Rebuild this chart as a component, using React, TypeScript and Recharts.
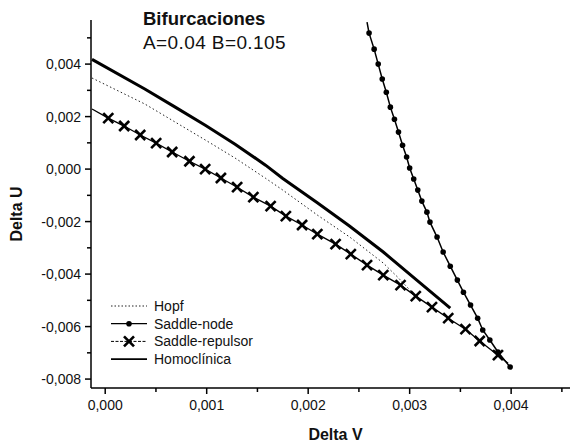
import React from "react";
import { LineChart, Line, XAxis, YAxis, Legend } from "recharts";

// Delta V (x) / Delta U (y)
const hopfV = [-0.00013, 0.00039, 0.00069, 0.00099, 0.00128, 0.00158, 0.00175, 0.00209, 0.00241, 0.00274, 0.00288, 0.00305];
const hopfU = [0.00347, 0.00248, 0.00179, 0.0011, 0.00042, -0.00035, -0.0008, -0.00175, -0.00259, -0.00358, -0.00411, -0.0048];

const saddleNodeV = [0.00258, 0.0026, 0.00265, 0.00269, 0.00273, 0.00277, 0.00281, 0.00285, 0.00289, 0.00293, 0.00297, 0.003, 0.00304, 0.00308, 0.00312, 0.00317, 0.0032, 0.00327, 0.00333, 0.0034, 0.00347, 0.00353, 0.0036, 0.00367, 0.00372, 0.00379, 0.00387, 0.00399];
const saddleNodeU = [0.0056, 0.00518, 0.00457, 0.004, 0.00343, 0.00293, 0.00236, 0.0019, 0.00141, 0.00091, 0.00046, 0.00004, -0.00038, -0.0008, -0.00122, -0.00164, -0.00202, -0.00259, -0.00316, -0.0037, -0.00423, -0.00469, -0.00518, -0.00568, -0.00613, -0.00651, -0.00697, -0.00754];

const saddleRepV = [-0.00013, 0.00003, 0.000187, 0.000345, 0.000502, 0.00066, 0.00083, 0.000985, 0.00114, 0.0013, 0.00146, 0.00163, 0.00178, 0.00194, 0.00209, 0.00227, 0.00242, 0.00258, 0.00274, 0.00291, 0.00306, 0.00322, 0.00338, 0.00355, 0.00369, 0.00387, 0.00397];
const saddleRepU = [0.00229, 0.00194, 0.00164, 0.0013, 0.00099, 0.00065, 0.0003, 0.0, -0.00034, -0.00069, -0.00107, -0.00141, -0.00179, -0.00213, -0.00248, -0.00286, -0.00324, -0.00366, -0.00404, -0.00442, -0.00484, -0.00526, -0.00568, -0.0061, -0.00655, -0.00709, -0.0074];

const homoV = [-0.00013, 0.00039, 0.00069, 0.00099, 0.00128, 0.00158, 0.00175, 0.00209, 0.00241, 0.00274, 0.00307, 0.0034];
const homoU = [0.00418, 0.00305, 0.00236, 0.00166, 0.00095, 0.00015, -0.00036, -0.00128, -0.00218, -0.00316, -0.00423, -0.0053];

const xTicks = [0, 0.0005, 0.001, 0.0015, 0.002, 0.0025, 0.003, 0.0035, 0.004, 0.0045];
const yTicks = [-0.008, -0.007, -0.006, -0.005, -0.004, -0.003, -0.002, -0.001, 0, 0.001, 0.002, 0.003, 0.004, 0.005];

const legendOrder = ["Hopf", "Saddle-node", "Saddle-repulsor", "Homoclínica"];

const toPoints = (vs: number[], us: number[]) => vs.map((v, i) => ({ v, u: us[i] }));

const hopf = toPoints(hopfV, hopfU);
const saddleNode = toPoints(saddleNodeV, saddleNodeU);
const saddleRep = toPoints(saddleRepV, saddleRepU);
const homo = toPoints(homoV, homoU);

const FONT = '"Liberation Sans", Arial, sans-serif';

const fmt = (v: number) => v.toFixed(3).replace(".", ",");
const isMultiple = (v: number, step: number) => Math.abs(v / step - Math.round(v / step)) < 1e-6;

function XTick(props: any) {
  const { x, y, payload } = props;
  const major = isMultiple(payload.value, 0.001);
  return (
    <g>
      <line x1={x} x2={x} y1={y} y2={y + (major ? 6 : 4)} stroke="#000" strokeWidth={1.5} />
      {major && (
        <text x={x} y={y + 22} textAnchor="middle" fontSize={14} fontFamily={FONT} fill="#111">
          {fmt(payload.value)}
        </text>
      )}
    </g>
  );
}

function YTick(props: any) {
  const { x, y, payload } = props;
  const major = isMultiple(payload.value, 0.002);
  return (
    <g>
      <line x1={x} x2={x - (major ? 6 : 4)} y1={y} y2={y} stroke="#000" strokeWidth={1.5} />
      {major && (
        <text x={x - 10} y={y + 5} textAnchor="end" fontSize={14} fontFamily={FONT} fill="#111">
          {fmt(payload.value)}
        </text>
      )}
    </g>
  );
}

function Cross({ cx, cy, size = 5 }: { cx: number; cy: number; size?: number }) {
  return (
    <g stroke="#000" strokeWidth={2.6}>
      <line x1={cx - size} y1={cy - size} x2={cx + size} y2={cy + size} />
      <line x1={cx - size} y1={cy + size} x2={cx + size} y2={cy - size} />
    </g>
  );
}

const repDot = (props: any) => {
  const { cx, cy, index } = props;
  if (index === 0 || index === saddleRep.length - 1) return <g key={`r${index}`} />;
  return <Cross key={`r${index}`} cx={cx} cy={cy} />;
};

const nodeDot = (props: any) => {
  const { cx, cy, index } = props;
  if (index === 0) return <g key={`n${index}`} />;
  return <circle key={`n${index}`} cx={cx} cy={cy} r={2.8} fill="#000" />;
};

function LegendBox(props: any) {
  const items = [...(props.payload || [])].sort(
    (a: any, b: any) => legendOrder.indexOf(a.value) - legendOrder.indexOf(b.value)
  );
  return (
    <svg width={200} height={75}>
      {items.map((item: any, i: number) => {
        const y = 9 + i * 17.7;
        const name = item.value;
        return (
          <g key={name}>
            {name === "Hopf" && <line x1={6} x2={42} y1={y} y2={y} stroke="#222" strokeWidth={1} strokeDasharray="1.5 2" />}
            {name === "Saddle-node" && (
              <g>
                <line x1={6} x2={42} y1={y} y2={y} stroke="#000" strokeWidth={1.2} />
                <circle cx={24} cy={y} r={2.8} fill="#000" />
              </g>
            )}
            {name === "Saddle-repulsor" && (
              <g>
                <line x1={6} x2={42} y1={y} y2={y} stroke="#000" strokeWidth={1} strokeDasharray="3 1.5" />
                <Cross cx={24} cy={y} size={5} />
              </g>
            )}
            {name === "Homoclínica" && <line x1={6} x2={42} y1={y} y2={y} stroke="#000" strokeWidth={1.6} />}
            <text x={49} y={y + 5} fontSize={14} fontFamily={FONT} fill="#111">
              {name}
            </text>
          </g>
        );
      })}
    </svg>
  );
}

export default function App() {
  return (
    <div style={{ position: "absolute", left: 0, top: 0, width: 572, height: 443, background: "#fff" }}>
      <LineChart width={572} height={443} margin={{ top: 20, right: 2, left: 0, bottom: 0 }}>
        <XAxis
          type="number"
          dataKey="v"
          domain={[-0.00014, 0.00458]}
          allowDataOverflow
          ticks={xTicks}
          interval={0}
          tickSize={0}
          tickMargin={0}
          tickLine={false}
          tick={<XTick />}
          height={55}
          axisLine={{ stroke: "#000", strokeWidth: 1.5 }}
          label={{
            content: (p: any) => {
              const vb = p.viewBox;
              return (
                <text x={vb.x + vb.width / 2 + 5} y={vb.y + 52} textAnchor="middle" fontSize={16} fontWeight="bold" fontFamily={FONT} fill="#111">
                  Delta V
                </text>
              );
            },
          }}
        />
        <YAxis
          type="number"
          dataKey="u"
          domain={[-0.00834, 0.00568]}
          allowDataOverflow
          ticks={yTicks}
          interval={0}
          tickSize={0}
          tickMargin={0}
          tickLine={false}
          tick={<YTick />}
          width={91}
          axisLine={{ stroke: "#000", strokeWidth: 1.5 }}
          label={{
            content: (p: any) => {
              const vb = p.viewBox;
              const cx = vb.x + 22;
              const cy = vb.y + vb.height / 2 + 10;
              return (
                <text x={cx} y={cy} transform={`rotate(-90 ${cx} ${cy})`} textAnchor="middle" fontSize={16} fontWeight="bold" fontFamily={FONT} fill="#111">
                  Delta U
                </text>
              );
            },
          }}
        />
        <Legend
          layout="vertical"
          align="center"
          verticalAlign="middle"
          content={<LegendBox />}
          wrapperStyle={{ position: "absolute", left: 105, top: 297, width: 200, height: 75 }}
        />
        <Line data={hopf} dataKey="u" name="Hopf" stroke="#222" strokeWidth={1} strokeDasharray="1.5 2.5" dot={false} isAnimationActive={false} />
        <Line data={saddleNode} dataKey="u" name="Saddle-node" stroke="#000" strokeWidth={1.5} dot={nodeDot} isAnimationActive={false} />
        <Line data={saddleRep} dataKey="u" name="Saddle-repulsor" stroke="#000" strokeWidth={1.3} dot={repDot} isAnimationActive={false} />
        <Line data={homo} dataKey="u" name="Homoclínica" stroke="#000" strokeWidth={3} dot={false} isAnimationActive={false} />
      </LineChart>
      <svg width={572} height={60} style={{ position: "absolute", left: 0, top: 0, pointerEvents: "none" }}>
        <text x={143} y={25} fontSize={18.5} fontWeight="bold" fontFamily={FONT} fill="#111">
          Bifurcaciones
        </text>
        <text x={143} y={49} fontSize={19} fontFamily={FONT} fill="#111" letterSpacing={0.4}>
          A=0.04 B=0.105
        </text>
      </svg>
    </div>
  );
}
